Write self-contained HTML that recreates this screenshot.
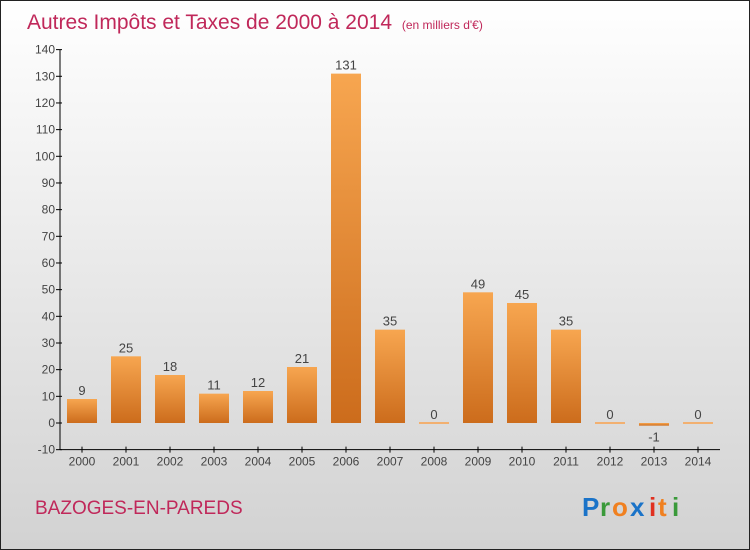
<!DOCTYPE html>
<html><head><meta charset="utf-8"><style>
body{margin:0;width:750px;height:550px;overflow:hidden}
svg{display:block;font-family:"Liberation Sans",sans-serif}
</style></head><body>
<svg id="c" width="750" height="550">
<defs>
<linearGradient id="bg" x1="0" y1="0" x2="0" y2="1"><stop offset="0" stop-color="#ffffff"/><stop offset="1" stop-color="#d2d2d2"/></linearGradient>
<linearGradient id="bar" x1="0" y1="0" x2="0" y2="1"><stop offset="0" stop-color="#f7a650"/><stop offset="1" stop-color="#cc6c1c"/></linearGradient>
</defs>
<rect x="0.5" y="0.5" width="749" height="549" fill="url(#bg)" stroke="#222"/>
<text x="27" y="29" font-size="21" fill="#c0285a">Autres Impôts et Taxes de 2000 à 2014 <tspan font-size="12" dx="4">(en milliers d'€)</tspan></text>
<text x="35" y="514" font-size="19" fill="#c0285a">BAZOGES-EN-PAREDS</text>
<g font-size="26" font-weight="bold">
<text x="582" y="516" fill="#1a73c8">P</text><text x="600" y="516" fill="#3a9a3a">r</text><text x="612" y="516" fill="#f08020">o</text><text x="630" y="516" fill="#1a73c8">x</text><text x="649" y="516" fill="#e03020">i</text><text x="658" y="516" fill="#f08020">t</text><text x="672" y="516" fill="#3a9a3a">i</text>
</g>
<g id="axes"></g><g id="bars"></g>
</svg>
<script>
const categories=["2000","2001","2002","2003","2004","2005","2006","2007","2008","2009","2010","2011","2012","2013","2014"];
const values=[9,25,18,11,12,21,131,35,0,49,45,35,0,-1,0];
const yTicks=[-10,0,10,20,30,40,50,60,70,80,90,100,110,120,130,140];
const NS="http://www.w3.org/2000/svg";
const y=v=>423-v*2.667;
const x=i=>82+i*44;
function el(t,a,p){const e=document.createElementNS(NS,t);for(const k in a)e.setAttribute(k,a[k]);p.appendChild(e);return e;}
const ax=document.getElementById('axes'),bg=document.getElementById('bars');
const yl=el('line',{x1:60,x2:60,y1:y(140),y2:y(-10),stroke:'#000'},ax);


const xl=el('line',{x1:60,x2:720,y1:y(-10),y2:y(-10),stroke:'#000'},ax);


yTicks.forEach(t=>{
 el('line',{x1:56,x2:62,y1:y(t),y2:y(t),stroke:'#000'},ax);
 const tx=el('text',{x:55,y:y(t)+4,'text-anchor':'end','font-size':12,fill:'#444'},ax);tx.textContent=t;
 
 
});
categories.forEach((c,i)=>{
 el('line',{x1:x(i),x2:x(i),y1:y(-10)-3,y2:y(-10)+3,stroke:'#000'},ax);
 const tx=el('text',{x:x(i),y:y(-10)+16,'text-anchor':'middle','font-size':12,fill:'#444'},ax);tx.textContent=c;
 
 
 const v=values[i];
 const top=Math.min(y(v),y(0)),h=Math.max(Math.abs(y(v)-y(0)),2);
 const r=el('rect',{x:x(i)-15,y:v===0?y(0)-1:top,width:30,height:h,fill:'url(#bar)'},bg);
 if(v===0)r.setAttribute('fill','#f2b070');
 
 
 const lb=el('text',{x:x(i),y:v<0?y(v)+16:y(v)-4,'text-anchor':'middle','font-size':13,fill:'#444'},bg);lb.textContent=v;
 
 
});
</script>
</body></html>
